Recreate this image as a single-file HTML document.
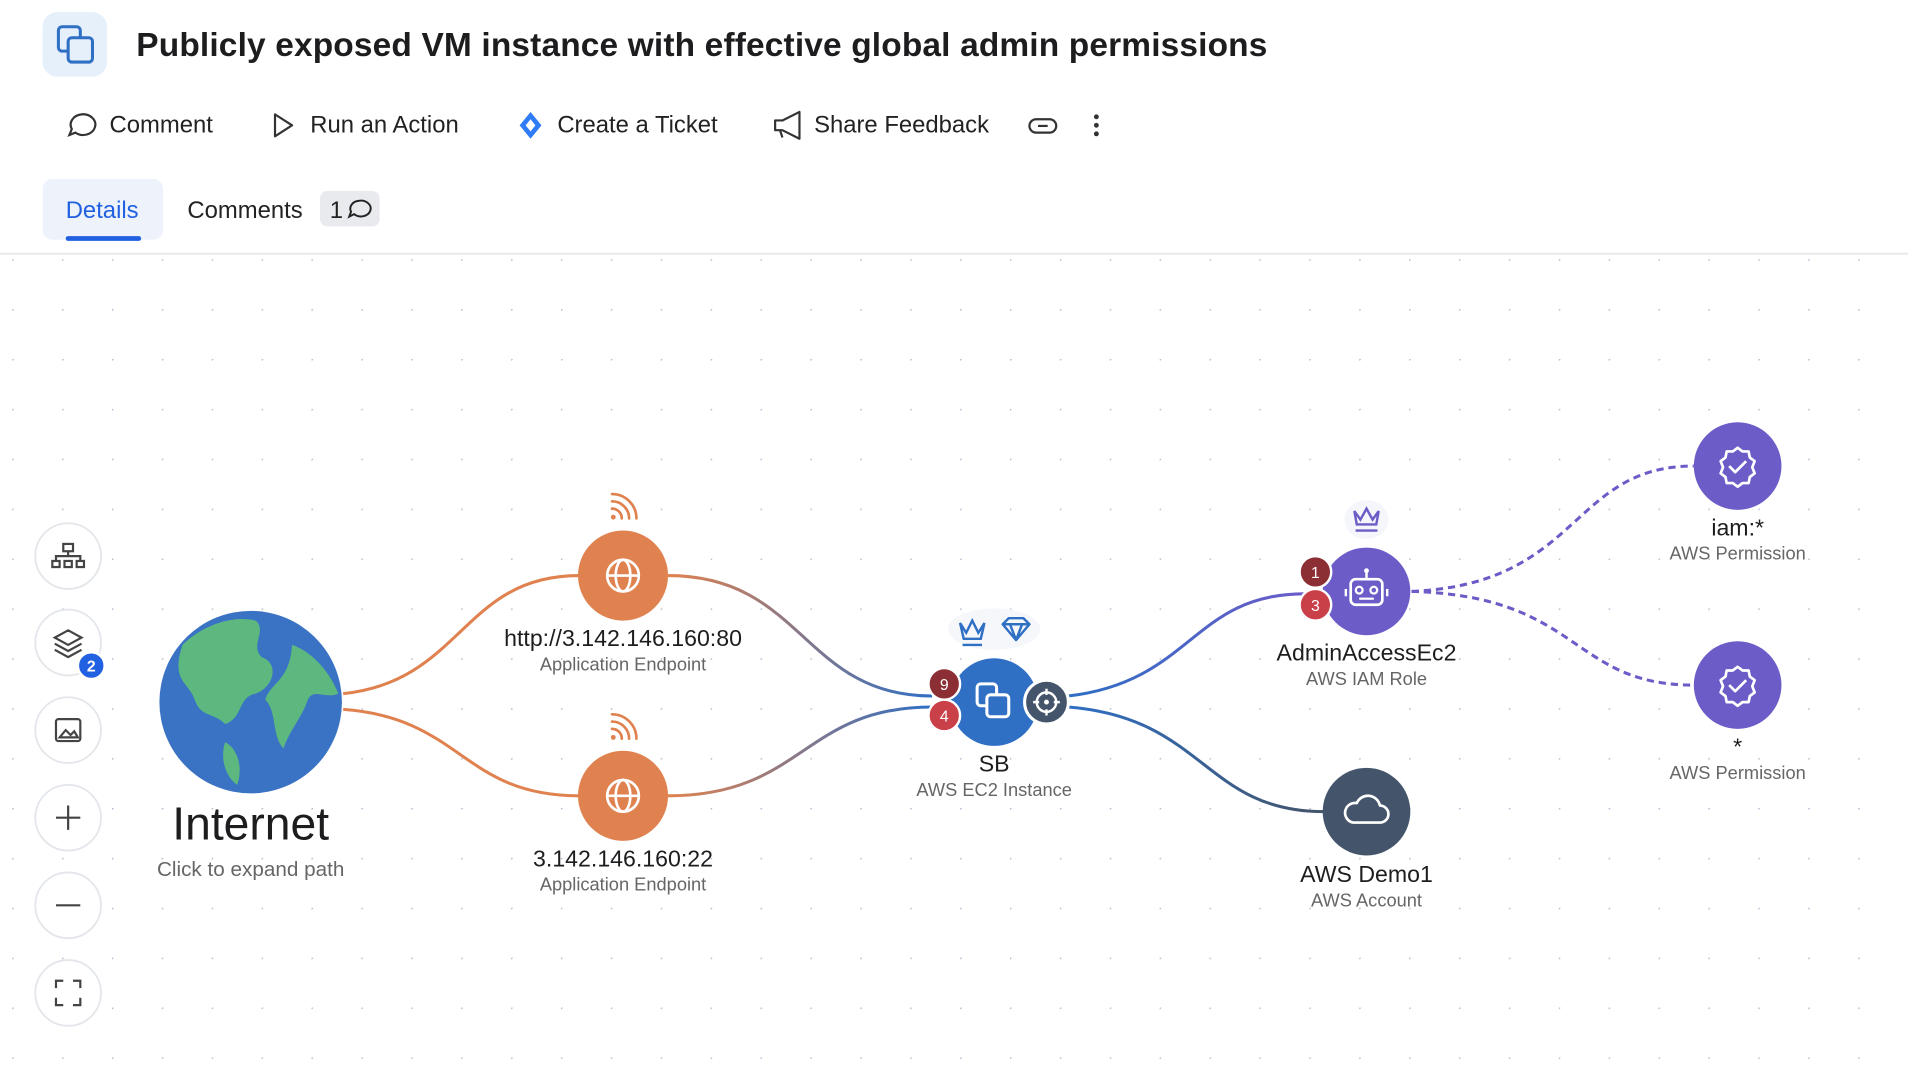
<!DOCTYPE html>
<html><head><meta charset="utf-8">
<style>
html,body{margin:0;padding:0;background:#fff;width:1908px;height:1080px;overflow:hidden;font-family:"Liberation Sans",sans-serif}
#s{position:absolute;left:0;top:0;width:1568px;height:888px;transform:scale(1.21684);transform-origin:0 0}
.t{position:absolute;white-space:nowrap}
</style></head><body>
<div id="s">
<svg width="1568" height="888" style="position:absolute;left:0;top:0">
<defs>
<pattern id="dots" x="10" y="213" width="41" height="41" patternUnits="userSpaceOnUse"><circle cx="0" cy="0" r="1.4" fill="#b3c2d4"/></pattern>
<linearGradient id="g1" x1="0" x2="1"><stop offset="0" stop-color="#e0824f"/><stop offset="1" stop-color="#2f6fc4"/></linearGradient>
<linearGradient id="g2" x1="0" x2="1"><stop offset="0" stop-color="#2f6fc4"/><stop offset="1" stop-color="#6b5cc8"/></linearGradient>
<linearGradient id="g3" x1="0" x2="1"><stop offset="0" stop-color="#2f6fc4"/><stop offset="1" stop-color="#44546a"/></linearGradient>
</defs>
<rect x="0" y="210" width="1568" height="678" fill="url(#dots)"/>
<line x1="0" y1="208.5" x2="1568" y2="208.5" stroke="#e6e8ec" stroke-width="1.5"/>
<rect x="35" y="10" width="53" height="53" rx="12" fill="#e6f0fb"/>
<rect x="48" y="22" width="18" height="20" rx="3" fill="none" stroke="#2f6fc4" stroke-width="2.5"/>
<rect x="56" y="31" width="20" height="20" rx="3" fill="#e6f0fb" stroke="#2f6fc4" stroke-width="2.5"/>
<path d="M67 94a10 8.5 0 1 1 -5 15l-5 2 2-5a10 8.5 0 0 1 8-12z" fill="none" stroke="#333" stroke-width="1.8"/>
<path d="M226 94l14 9-14 9z" fill="none" stroke="#333" stroke-width="1.8" stroke-linejoin="round"/>
<path d="M436 92l9 11-9 11-9-11z" fill="#2f7cf6"/><path d="M436 98l4 5-4 5-4-5z" fill="#fff"/>
<path d="M637 99h6l14-7v22l-14-7h-6z M641 107l2 6" fill="none" stroke="#333" stroke-width="1.8" stroke-linejoin="round"/>
<rect x="846" y="98" width="22" height="11" rx="5.5" fill="none" stroke="#333" stroke-width="1.8"/><line x1="852" y1="103.5" x2="862" y2="103.5" stroke="#fff" stroke-width="4"/><line x1="853" y1="103.5" x2="861" y2="103.5" stroke="#333" stroke-width="1.8"/>
<circle cx="901" cy="96" r="2" fill="#333"/><circle cx="901" cy="103" r="2" fill="#333"/><circle cx="901" cy="110" r="2" fill="#333"/>
<rect x="35" y="147" width="99" height="50" rx="8" fill="#eef3fb"/>
<rect x="54" y="194" width="62" height="4" rx="2" fill="#2160e0"/>
<rect x="263" y="157" width="49" height="29" rx="6" fill="#e9eaee"/>
<path d="M295 165a8 6.5 0 1 1 -4 11l-4 2 1.5-4a8 6.5 0 0 1 6.5-9z" fill="none" stroke="#222" stroke-width="1.6"/>
<g fill="none" stroke-width="2.5">
<path d="M282 570 C380 560,380 473,476 473" stroke="#e0824f"/>
<path d="M282 583 C380 590,380 654,476 654" stroke="#e0824f"/>
<path d="M549 473 C660 473,660 572,766 572" stroke="url(#g1)"/>
<path d="M549 654 C660 654,660 581,766 581" stroke="url(#g1)"/>
<path d="M878 572 C980 560,980 488,1072 488" stroke="url(#g2)"/>
<path d="M878 581 C990 590,990 667,1088 667" stroke="url(#g3)"/>
<path d="M1160 486 C1300 480,1290 383,1392 383" stroke="#6b5cc8" stroke-dasharray="6 4"/>
<path d="M1160 486 C1300 490,1290 563,1392 563" stroke="#6b5cc8" stroke-dasharray="6 4"/>
</g>
<circle cx="206" cy="577" r="75" fill="#3a73c4"/>
<path d="M150 530c15-15 40-25 60-20 10 8-5 20 5 30 15 5 10 25-5 30-15 3-10 20-25 25-10-10-20-5-25-20-5-15-20-15-10-45z" fill="#5cb87e"/>
<path d="M240 530c15 5 30 20 38 40-10 5-20-5-25 5-5 15-15 25-20 40-10-10-5-30-15-40 5-15 20-15 22-45z" fill="#5cb87e"/>
<path d="M185 610c10 5 15 20 10 35-8-5-15-20-10-35z" fill="#5cb87e"/>
<g>
<circle cx="512" cy="473" r="37" fill="#e0824f"/>
<circle cx="512" cy="654" r="37" fill="#e0824f"/>
<g fill="none" stroke="#fff" stroke-width="2.2">
<circle cx="512" cy="473" r="13"/><ellipse cx="512" cy="473" rx="6" ry="13"/><line x1="499" y1="473" x2="525" y2="473"/>
<circle cx="512" cy="654" r="13"/><ellipse cx="512" cy="654" rx="6" ry="13"/><line x1="499" y1="654" x2="525" y2="654"/>
</g>
<g fill="none" stroke="#e0824f" stroke-width="2.2" stroke-linecap="round">
<path d="M503 412a14 14 0 0 1 14 14M503 406a20 20 0 0 1 20 20M503 418a8 8 0 0 1 8 8"/>
<path d="M503 593a14 14 0 0 1 14 14M503 587a20 20 0 0 1 20 20M503 599a8 8 0 0 1 8 8"/>
</g>
<circle cx="504" cy="425" r="2" fill="#e0824f"/><circle cx="504" cy="606" r="2" fill="#e0824f"/>
</g>
<ellipse cx="817" cy="517" rx="38" ry="17" fill="#f5f7fb"/>
<path d="M789 512l5 8 5-10 5 10 5-8-3 13h-14z M791 530h16" fill="none" stroke="#2f6fc4" stroke-width="2"/>
<path d="M824 513l5-5h12l5 5-11 13z M824 513h22M830 513l5 13 5-13" fill="none" stroke="#2f6fc4" stroke-width="2" stroke-linejoin="round"/>
<circle cx="817" cy="577" r="36" fill="#2f6fc4"/>
<rect x="803" y="562" width="16" height="18" rx="3" fill="none" stroke="#fff" stroke-width="2.5"/>
<rect x="811" y="571" width="18" height="18" rx="3" fill="#2f6fc4" stroke="#fff" stroke-width="2.5"/>
<circle cx="860" cy="577" r="18" fill="#44546a" stroke="#fff" stroke-width="2.5"/>
<circle cx="860" cy="577" r="8" fill="none" stroke="#fff" stroke-width="2"/><circle cx="860" cy="577" r="2" fill="#fff"/>
<path d="M860 566v5M860 583v5M849 577h5M866 577h5" stroke="#fff" stroke-width="2"/>
<circle cx="776" cy="562" r="13" fill="#8b2f35" stroke="#fff" stroke-width="2"/>
<circle cx="776" cy="588" r="13" fill="#c94048" stroke="#fff" stroke-width="2"/>
<ellipse cx="1123" cy="427" rx="18" ry="16" fill="#f5f6fb"/>
<path d="M1113 420l5 7 5-9 5 9 5-7-2 11h-16z M1114 436h18" fill="none" stroke="#6b5cc8" stroke-width="2"/>
<circle cx="1123" cy="486" r="36" fill="#6b5cc8"/>
<rect x="1110" y="476" width="26" height="21" rx="4" fill="none" stroke="#fff" stroke-width="2.2"/>
<line x1="1123" y1="470" x2="1123" y2="476" stroke="#fff" stroke-width="2"/><circle cx="1123" cy="469" r="2" fill="#fff"/>
<circle cx="1117" cy="485" r="2.8" fill="none" stroke="#fff" stroke-width="1.8"/><circle cx="1129" cy="485" r="2.8" fill="none" stroke="#fff" stroke-width="1.8"/>
<line x1="1117" y1="492" x2="1129" y2="492" stroke="#fff" stroke-width="1.8"/>
<line x1="1106" y1="484" x2="1106" y2="490" stroke="#fff" stroke-width="2"/><line x1="1140" y1="484" x2="1140" y2="490" stroke="#fff" stroke-width="2"/>
<circle cx="1081" cy="470" r="13" fill="#8b2f35" stroke="#fff" stroke-width="2"/>
<circle cx="1081" cy="497" r="13" fill="#c94048" stroke="#fff" stroke-width="2"/>
<circle cx="1123" cy="667" r="36" fill="#44546a"/>
<path d="M1112 676h22a7 7 0 0 0 0-14 10 10 0 0 0-19-2 7 7 0 0 0-3 16z" fill="none" stroke="#fff" stroke-width="2.2" stroke-linejoin="round"/>
<circle cx="1428" cy="383" r="36" fill="#6b5cc8"/>
<circle cx="1428" cy="563" r="36" fill="#6b5cc8"/>
<g fill="none" stroke="#fff" stroke-width="2.2" stroke-linejoin="round">
<path d="M1428 368l4 3 5 0 1 5 4 3-2 5 2 5-4 3-1 5-5 0-4 3-4-3-5 0-1-5-4-3 2-5-2-5 4-3 1-5 5 0z"/><path d="M1421 383l5 5 9-9"/>
<path d="M1428 548l4 3 5 0 1 5 4 3-2 5 2 5-4 3-1 5-5 0-4 3-4-3-5 0-1-5-4-3 2-5-2-5 4-3 1-5 5 0z"/><path d="M1421 563l5 5 9-9"/>
</g>
<g fill="#fff" stroke="#e3e6ea" stroke-width="1.5">
<circle cx="56" cy="457" r="27"/><circle cx="56" cy="528" r="27"/><circle cx="56" cy="600" r="27"/><circle cx="56" cy="672" r="27"/><circle cx="56" cy="744" r="27"/><circle cx="56" cy="816" r="27"/>
</g>
<g fill="none" stroke="#444" stroke-width="1.8">
<rect x="52" y="447" width="8" height="6"/><path d="M56 453v4M46 461v-4h20v4"/><rect x="43" y="461" width="6" height="5"/><rect x="53" y="461" width="6" height="5"/><rect x="63" y="461" width="6" height="5"/>
<path d="M56 518l11 6-11 6-11-6z M45 529l11 6 11-6 M45 534l11 6 11-6"/>
<rect x="46" y="591" width="20" height="18" rx="2"/><path d="M49 606l5-6 4 4 3-3 3 5z"/>
<path d="M56 662v20M46 672h20"/>
<path d="M46 744h20"/>
<path d="M46 812v-6h6M60 806h6v6M66 820v6h-6M52 826h-6v-6"/>
</g>
<circle cx="75" cy="547" r="11" fill="#2160e0" stroke="#fff" stroke-width="2"/>
<text x="75" y="552" font-size="13" font-weight="bold" fill="#fff" text-anchor="middle" font-family="Liberation Sans">2</text>
<g font-family="Liberation Sans" font-size="13" fill="#fff" text-anchor="middle">
<text x="776" y="567">9</text><text x="776" y="593">4</text><text x="1081" y="475">1</text><text x="1081" y="502">3</text>
</g>
</svg>
<div class="t" style="left:112px;top:21px;font-size:27.5px;font-weight:bold;color:#1d1d1f;letter-spacing:0.12px">Publicly exposed VM instance with effective global admin permissions</div>
<div class="t" style="left:90px;top:92px;font-size:19.6px;color:#222">Comment</div>
<div class="t" style="left:255px;top:92px;font-size:19.6px;color:#222">Run an Action</div>
<div class="t" style="left:458px;top:92px;font-size:19.6px;color:#222">Create a Ticket</div>
<div class="t" style="left:669px;top:92px;font-size:19.6px;color:#222">Share Feedback</div>
<div class="t" style="left:54px;top:162px;font-size:19.6px;color:#2160e0">Details</div>
<div class="t" style="left:154px;top:162px;font-size:19.6px;color:#222">Comments</div>
<div class="t" style="left:271px;top:162px;font-size:19.6px;color:#222">1</div>
<div class="t" style="left:206px;top:657px;width:0;display:flex;justify-content:center"><span style="font-size:38px;color:#1d1d1f">Internet</span></div>
<div class="t" style="left:206px;top:705px;width:0;display:flex;justify-content:center"><span style="font-size:17px;color:#666">Click to expand path</span></div>
<div class="t" style="left:512px;top:515px;width:0;display:flex;justify-content:center"><span style="font-size:19px;color:#1d1d1f">http://3.142.146.160:80</span></div>
<div class="t" style="left:512px;top:538px;width:0;display:flex;justify-content:center"><span style="font-size:15px;color:#666">Application Endpoint</span></div>
<div class="t" style="left:512px;top:696px;width:0;display:flex;justify-content:center"><span style="font-size:19px;color:#1d1d1f">3.142.146.160:22</span></div>
<div class="t" style="left:512px;top:719px;width:0;display:flex;justify-content:center"><span style="font-size:15px;color:#666">Application Endpoint</span></div>
<div class="t" style="left:817px;top:618px;width:0;display:flex;justify-content:center"><span style="font-size:19px;color:#1d1d1f">SB</span></div>
<div class="t" style="left:817px;top:641px;width:0;display:flex;justify-content:center"><span style="font-size:15px;color:#666">AWS EC2 Instance</span></div>
<div class="t" style="left:1123px;top:527px;width:0;display:flex;justify-content:center"><span style="font-size:19px;color:#1d1d1f">AdminAccessEc2</span></div>
<div class="t" style="left:1123px;top:550px;width:0;display:flex;justify-content:center"><span style="font-size:15px;color:#666">AWS IAM Role</span></div>
<div class="t" style="left:1123px;top:709px;width:0;display:flex;justify-content:center"><span style="font-size:19px;color:#1d1d1f">AWS Demo1</span></div>
<div class="t" style="left:1123px;top:732px;width:0;display:flex;justify-content:center"><span style="font-size:15px;color:#666">AWS Account</span></div>
<div class="t" style="left:1428px;top:424px;width:0;display:flex;justify-content:center"><span style="font-size:19px;color:#1d1d1f">iam:*</span></div>
<div class="t" style="left:1428px;top:447px;width:0;display:flex;justify-content:center"><span style="font-size:15px;color:#666">AWS Permission</span></div>
<div class="t" style="left:1428px;top:604px;width:0;display:flex;justify-content:center"><span style="font-size:19px;color:#1d1d1f">*</span></div>
<div class="t" style="left:1428px;top:627px;width:0;display:flex;justify-content:center"><span style="font-size:15px;color:#666">AWS Permission</span></div>
</div>
</body></html>
